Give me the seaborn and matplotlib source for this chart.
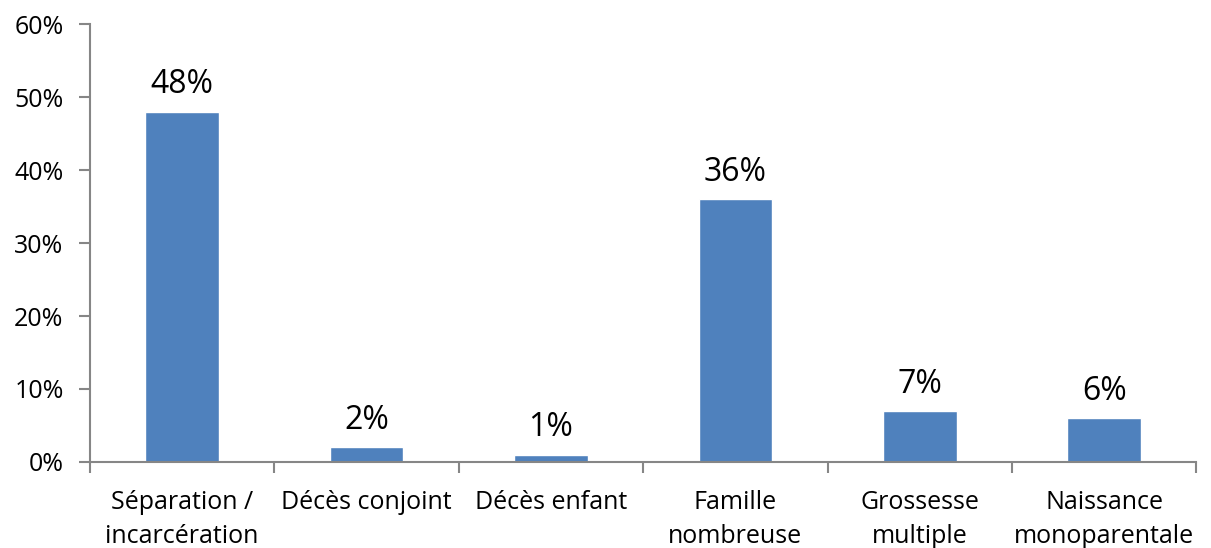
import numpy as np
import pandas as pd
import matplotlib
matplotlib.use("Agg")
import matplotlib.pyplot as plt
import seaborn as sns
from matplotlib.ticker import FixedLocator, PercentFormatter

# Données
categories = ["Séparation /\nincarcération", "Décès conjoint", "Décès enfant",
              "Famille\nnombreuse", "Grossesse\nmultiple", "Naissance\nmonoparentale"]
valeurs = [48, 2, 1, 36, 7, 6]
labels_valeurs = ["48%", "2%", "1%", "36%", "7%", "6%"]

df = pd.DataFrame({"cat": categories, "val": valeurs})

sns.set_style("white")
plt.rcParams["font.family"] = ["Open Sans", "DejaVu Sans"]

fig = plt.figure(figsize=(12.11, 5.48), dpi=100)
ax = fig.add_axes([0.0743, 0.157, 0.9137, 0.799])

sns.barplot(data=df, x="cat", y="val", color="#4F81BD", saturation=1,
            width=0.4, ax=ax)

for i, (v, lab) in enumerate(zip(valeurs, labels_valeurs)):
    ax.text(i, v + 2.5, lab, ha="center", va="baseline", fontsize=23, color="black")

ax.set_ylim(0, 60)
ax.set_xlim(-0.5, len(categories) - 0.5)
ax.set_yticks(np.arange(0, 61, 10))
ax.yaxis.set_major_formatter(PercentFormatter(decimals=0))
ax.set_xlabel("")
ax.set_ylabel("")

ax.tick_params(axis="y", labelsize=18, labelcolor="black", length=8, width=1.5,
               color="#868686", direction="out", left=True, pad=11)
ax.tick_params(axis="x", which="major", labelsize=18, labelcolor="black",
               length=0, pad=20)
ax.xaxis.set_minor_locator(FixedLocator(np.arange(-0.5, len(categories), 1)))
ax.tick_params(axis="x", which="minor", length=8, width=1.5, color="#868686",
               direction="out", bottom=True)
for t in ax.get_xticklabels():
    t.set_verticalalignment("top")
    t.set_linespacing(1.5)

for side in ["top", "right"]:
    ax.spines[side].set_visible(False)
for side in ["left", "bottom"]:
    ax.spines[side].set_color("#868686")
    ax.spines[side].set_linewidth(1.5)

fig.savefig("out.png", dpi=100)
